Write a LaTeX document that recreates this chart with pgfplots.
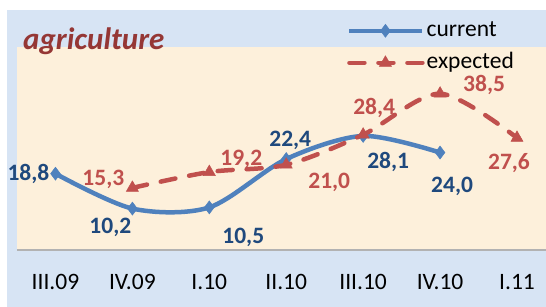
\documentclass[border=0pt]{standalone}
\usepackage{pgfplots}
\pgfplotsset{compat=1.18}
\usepackage{pgfplotstable}
\usepackage{fontspec}
\setmainfont{Carlito}
\definecolor{bgblue}{HTML}{D7E4F4}
\definecolor{cream}{HTML}{FDF0DB}
\definecolor{lineblue}{HTML}{4F81BD}
\definecolor{labblue}{HTML}{1F497D}
\definecolor{linered}{HTML}{C0504D}
\definecolor{titlered}{HTML}{953735}

\pgfplotstableread{
x y lab dx dy
0 18.8 18,8 -27 0
1 10.2 10,2 -22 -19
2 10.5 10,5 34 -30
3 22.4 22,4 4 19
4 28.1 28,1 25 -26
5 24.0 24,0 12 -34
}\curtab

\pgfplotstableread{
x y lab dx dy
1 15.3 15,3 -29 8
2 19.2 19,2 32 13
3 21.0 21,0 43 -18
4 28.4 28,4 11 27
5 38.5 38,5 44 9
6 27.6 27,6 -8 -25
}\exptab

\begin{document}
\begin{tikzpicture}
\useasboundingbox (0,0) rectangle (546pt,307pt);
\fill[white] (0,0) rectangle (546pt,307pt);
\fill[bgblue] (7pt,0) rectangle (546pt,297pt);
\begin{axis}[
  at={(17pt,57pt)}, anchor=south west,
  scale only axis, width=529pt, height=203pt,
  xmin=-0.5, xmax=6.377, ymin=0, ymax=50,
  clip=false,
  axis background/.style={fill=cream},
  axis x line*=bottom, axis y line=none,
  x axis line style={draw=black!30, line width=1.5pt},
  major tick length=0pt,
  ytick=\empty,
  xtick={0,...,6},
  xticklabels={III.09,IV.09,I.10,II.10,III.10,IV.10,I.11},
  xticklabel style={anchor=base, yshift=-40pt, font=\fontsize{23.5}{26}\selectfont, text=black},
  legend style={at={(rel axis cs:0.6238,1.140)}, anchor=north west, draw=none, fill=none,
    inner sep=0pt, row sep=8pt, column sep=1pt,
    font=\fontsize{23.5}{26}\selectfont,
    nodes={inner sep=1pt, text height=17pt, text depth=5pt}},
  legend cell align=left,
  legend image code/.code={\draw[mark repeat=2,mark phase=2,#1] plot coordinates {(0pt,0pt) (36pt,0pt) (73pt,0pt)};},
]
\addplot[lineblue, line width=4.5pt, smooth, mark=diamond*, mark size=6.5pt,
  mark options={fill=lineblue, line width=0.5pt},
  nodes near coords, point meta=explicit symbolic,
  visualization depends on={\thisrow{dx}\as\dx},
  visualization depends on={\thisrow{dy}\as\dy},
  every node near coord/.append style={anchor=center, xshift=\dx, yshift=\dy,
    text=labblue, font=\fontsize{23.5}{26}\selectfont\bfseries}]
  table[x=x, y=y, meta=lab]{\curtab};
\addplot[linered, line width=4.5pt, smooth, dash pattern=on 15pt off 14pt, line cap=round,
  mark=triangle*, mark size=7pt,
  mark options={solid, fill=linered, line width=0.5pt},
  nodes near coords, point meta=explicit symbolic,
  visualization depends on={\thisrow{dx}\as\dx},
  visualization depends on={\thisrow{dy}\as\dy},
  every node near coord/.append style={anchor=center, xshift=\dx, yshift=\dy,
    text=linered, font=\fontsize{23.5}{26}\selectfont\bfseries}]
  table[x=x, y=y, meta=lab]{\exptab};
\legend{current, expected}
\node[anchor=base west, inner sep=0pt, text=titlered, font=\fontsize{31}{34}\selectfont\bfseries\itshape]
  at (rel axis cs:0.0113,0.990) {agriculture};
\end{axis}
\end{tikzpicture}
\end{document}
